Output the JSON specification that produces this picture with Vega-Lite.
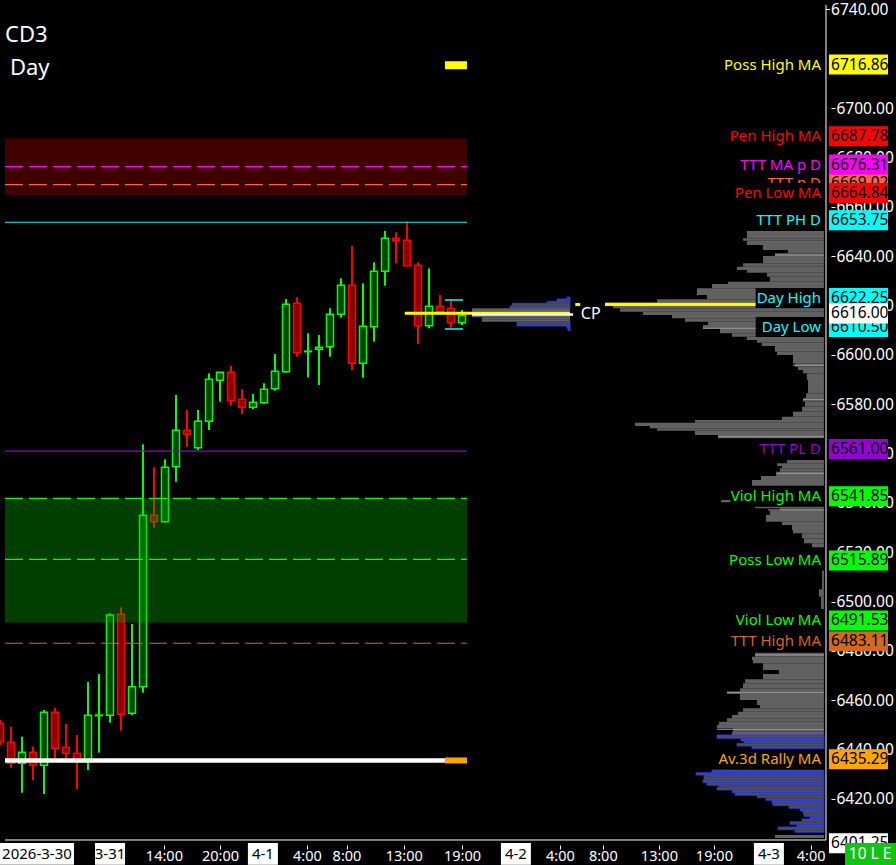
{
"$schema":"https://vega.github.io/schema/vega-lite/v6.json",
"width":896,"height":865,
"autosize":{"type":"fit","contains":"padding"},
"padding":0,
"background":"#000000",
"config":{"padding":0,"view":{"stroke":null},"axis":{"grid":false,"domain":false,"tickColor":"#ffffff","labelColor":"#ffffff","labelFont":"Noto Sans","labelOverlap":false,"labelFlush":false,"tickWidth":1},"text":{"font":"Noto Sans"}},
"datasets":{
"candles":[
{"k":0,"o":6450.66,"h":6452.0,"l":6441.86,"c":6443.2},
{"k":1,"o":6442.96,"h":6449.28,"l":6432.66,"c":6434.45},
{"k":2,"o":6434.45,"h":6445.23,"l":6422.53,"c":6438.91},
{"k":3,"o":6438.91,"h":6441.18,"l":6427.68,"c":6433.76},
{"k":4,"o":6433.64,"h":6456.05,"l":6422.0,"c":6455.12},
{"k":5,"o":6455.12,"h":6456.98,"l":6436.47,"c":6440.53},
{"k":6,"o":6440.93,"h":6450.38,"l":6434.97,"c":6438.5},
{"k":7,"o":6438.5,"h":6445.92,"l":6424.03,"c":6435.1},
{"k":8,"o":6435.1,"h":6467.4,"l":6431.73,"c":6453.9},
{"k":9,"o":6453.75,"h":6470.64,"l":6438.74,"c":6454.0},
{"k":10,"o":6453.9,"h":6495.25,"l":6450.9,"c":6494.56},
{"k":11,"o":6494.84,"h":6497.68,"l":6447.66,"c":6454.31},
{"k":12,"o":6454.71,"h":6490.91,"l":6454.02,"c":6465.5},
{"k":13,"o":6465.5,"h":6563.75,"l":6463.06,"c":6534.97},
{"k":14,"o":6534.97,"h":6554.43,"l":6529.95,"c":6532.38},
{"k":15,"o":6532.38,"h":6557.67,"l":6532.0,"c":6554.43},
{"k":16,"o":6554.67,"h":6583.74,"l":6548.59,"c":6569.43},
{"k":17,"o":6569.43,"h":6577.66,"l":6562.78,"c":6567.81},
{"k":18,"o":6562.37,"h":6577.66,"l":6561.44,"c":6573.08},
{"k":19,"o":6573.08,"h":6592.53,"l":6569.55,"c":6590.1},
{"k":20,"o":6589.7,"h":6592.94,"l":6581.02,"c":6592.94},
{"k":21,"o":6592.94,"h":6595.49,"l":6579.4,"c":6581.43},
{"k":22,"o":6581.99,"h":6586.05,"l":6576.04,"c":6578.75},
{"k":23,"o":6578.75,"h":6584.14,"l":6578.06,"c":6580.78},
{"k":24,"o":6580.62,"h":6588.48,"l":6580.09,"c":6586.05},
{"k":25,"o":6586.29,"h":6600.36,"l":6585.48,"c":6593.34},
{"k":26,"o":6593.18,"h":6622.65,"l":6592.78,"c":6620.5},
{"k":27,"o":6620.91,"h":6623.34,"l":6599.26,"c":6600.88},
{"k":28,"o":6601.29,"h":6608.75,"l":6590.91,"c":6601.5},
{"k":29,"o":6602.26,"h":6608.06,"l":6587.79,"c":6603.07},
{"k":30,"o":6603.32,"h":6618.88,"l":6599.26,"c":6616.45},
{"k":31,"o":6616.45,"h":6631.04,"l":6615.07,"c":6628.2},
{"k":32,"o":6628.2,"h":6644.13,"l":6593.87,"c":6596.59},
{"k":33,"o":6596.59,"h":6629.01,"l":6590.75,"c":6611.58},
{"k":34,"o":6611.42,"h":6637.53,"l":6605.34,"c":6633.88},
{"k":35,"o":6633.88,"h":6650.21,"l":6628.04,"c":6647.26},
{"k":36,"o":6647.26,"h":6649.69,"l":6637.12,"c":6646.28},
{"k":37,"o":6646.44,"h":6653.98,"l":6636.0,"c":6636.15},
{"k":38,"o":6636.31,"h":6637.53,"l":6604.41,"c":6611.83},
{"k":39,"o":6611.83,"h":6635.09,"l":6610.77,"c":6619.69},
{"k":40,"o":6619.69,"h":6624.27,"l":6616.85,"c":6617.5},
{"k":41,"o":6618.88,"h":6622.25,"l":6611.02,"c":6613.04},
{"k":42,"o":6613.04,"h":6618.19,"l":6612.11,"c":6616.0}
],
"zones":[{"a":6664.84,"b":6687.78,"z":"pen"},{"a":6491.53,"b":6541.85,"z":"viol"}],
"dashes":[{"p":6676.31,"name":"TTT MA p D"},{"p":6669.02,"name":"TTT p D"},{"p":6541.85,"name":"Viol High MA"},{"p":6517.1,"name":"Poss Low MA"},{"p":6483.11,"name":"TTT High MA"}],
"levels":[{"p":6653.75,"name":"TTT PH D"},{"p":6561.0,"name":"TTT PL D"}],
"profile":[
{"a":6650.21,"b":6647.26,"l":67.9,"k":"g"},
{"a":6647.26,"b":6646.28,"l":67.55,"k":"g"},
{"a":6646.28,"b":6644.54,"l":67.9,"k":"g"},
{"a":6644.54,"b":6642.51,"l":69.36,"k":"g"},
{"a":6642.51,"b":6641.18,"l":71.64,"k":"g"},
{"a":6641.18,"b":6640.08,"l":70.45,"k":"g"},
{"a":6640.08,"b":6637.12,"l":69.36,"k":"g"},
{"a":6637.12,"b":6635.74,"l":67.55,"k":"g"},
{"a":6635.74,"b":6634.41,"l":67.0,"k":"g"},
{"a":6634.41,"b":6633.31,"l":67.9,"k":"g"},
{"a":6633.31,"b":6631.69,"l":69.73,"k":"g"},
{"a":6631.69,"b":6629.66,"l":70.0,"k":"g"},
{"a":6629.66,"b":6628.73,"l":66.18,"k":"g"},
{"a":6628.73,"b":6626.99,"l":64.73,"k":"g"},
{"a":6626.99,"b":6624.27,"l":63.36,"k":"g"},
{"a":6624.27,"b":6622.53,"l":64.27,"k":"g"},
{"a":6622.53,"b":6621.15,"l":59.73,"k":"g"},
{"a":6621.15,"b":6619.81,"l":55.0,"k":"g"},
{"a":6619.81,"b":6618.88,"l":55.73,"k":"g"},
{"a":6618.88,"b":6617.5,"l":56.36,"k":"g"},
{"a":6617.5,"b":6616.16,"l":58.45,"k":"g"},
{"a":6616.16,"b":6614.83,"l":61.09,"k":"g"},
{"a":6614.83,"b":6613.45,"l":62.27,"k":"g"},
{"a":6613.45,"b":6612.11,"l":64.36,"k":"g"},
{"a":6612.11,"b":6610.77,"l":63.91,"k":"g"},
{"a":6610.77,"b":6608.75,"l":65.45,"k":"g"},
{"a":6608.75,"b":6607.37,"l":66.55,"k":"g"},
{"a":6607.37,"b":6606.03,"l":67.9,"k":"g"},
{"a":6606.03,"b":6604.94,"l":68.82,"k":"g"},
{"a":6604.94,"b":6603.6,"l":69.27,"k":"g"},
{"a":6603.6,"b":6601.29,"l":70.45,"k":"g"},
{"a":6601.29,"b":6599.95,"l":70.64,"k":"g"},
{"a":6599.95,"b":6596.59,"l":72.09,"k":"g"},
{"a":6596.59,"b":6595.21,"l":72.27,"k":"g"},
{"a":6595.21,"b":6593.87,"l":72.55,"k":"g"},
{"a":6593.87,"b":6592.53,"l":73.0,"k":"g"},
{"a":6592.53,"b":6589.82,"l":73.36,"k":"g"},
{"a":6589.82,"b":6584.43,"l":73.45,"k":"g"},
{"a":6584.43,"b":6582.4,"l":73.27,"k":"g"},
{"a":6582.4,"b":6581.02,"l":73.0,"k":"g"},
{"a":6581.02,"b":6578.99,"l":73.18,"k":"g"},
{"a":6578.99,"b":6576.97,"l":72.91,"k":"g"},
{"a":6576.97,"b":6574.94,"l":72.09,"k":"g"},
{"a":6574.94,"b":6573.6,"l":71.09,"k":"g"},
{"a":6573.6,"b":6572.51,"l":63.18,"k":"g"},
{"a":6572.51,"b":6571.17,"l":57.73,"k":"g"},
{"a":6571.17,"b":6570.24,"l":59.09,"k":"g"},
{"a":6570.24,"b":6569.27,"l":59.73,"k":"g"},
{"a":6569.27,"b":6567.52,"l":63.18,"k":"g"},
{"a":6567.52,"b":6566.18,"l":65.27,"k":"g"},
{"a":6557.39,"b":6556.05,"l":71.55,"k":"g"},
{"a":6556.05,"b":6554.96,"l":70.64,"k":"g"},
{"a":6554.96,"b":6554.02,"l":71.09,"k":"g"},
{"a":6554.02,"b":6552.65,"l":70.91,"k":"g"},
{"a":6552.65,"b":6550.9,"l":70.55,"k":"g"},
{"a":6550.9,"b":6549.28,"l":69.18,"k":"g"},
{"a":6549.28,"b":6546.97,"l":68.36,"k":"g"},
{"a":6541.2,"b":6540.3,"l":65.55,"k":"g"},
{"a":6538.46,"b":6537.81,"l":68.64,"k":"g"},
{"a":6537.81,"b":6536.84,"l":70.91,"k":"g"},
{"a":6536.84,"b":6535.09,"l":70.0,"k":"g"},
{"a":6535.09,"b":6532.38,"l":69.64,"k":"g"},
{"a":6532.38,"b":6531.04,"l":71.09,"k":"g"},
{"a":6531.04,"b":6529.01,"l":72.0,"k":"g"},
{"a":6529.01,"b":6527.68,"l":72.09,"k":"g"},
{"a":6527.68,"b":6525.65,"l":72.91,"k":"g"},
{"a":6525.65,"b":6523.62,"l":73.09,"k":"g"},
{"a":6523.62,"b":6522.0,"l":73.82,"k":"g"},
{"a":6512.8,"b":6505.0,"l":74.73,"k":"g"},
{"a":6505.0,"b":6502.0,"l":74.45,"k":"g"},
{"a":6502.0,"b":6497.0,"l":74.64,"k":"g"},
{"a":6479.28,"b":6477.66,"l":68.64,"k":"g"},
{"a":6477.66,"b":6476.32,"l":68.36,"k":"g"},
{"a":6476.32,"b":6474.98,"l":68.45,"k":"g"},
{"a":6474.98,"b":6472.27,"l":69.36,"k":"g"},
{"a":6472.27,"b":6470.64,"l":70.82,"k":"g"},
{"a":6470.64,"b":6468.5,"l":69.36,"k":"g"},
{"a":6468.5,"b":6466.88,"l":67.73,"k":"g"},
{"a":6466.88,"b":6464.85,"l":67.55,"k":"g"},
{"a":6464.85,"b":6463.47,"l":67.27,"k":"g"},
{"a":6463.47,"b":6462.54,"l":66.09,"k":"g"},
{"a":6462.54,"b":6460.1,"l":67.27,"k":"g"},
{"a":6460.1,"b":6458.08,"l":68.82,"k":"g"},
{"a":6458.08,"b":6456.74,"l":69.09,"k":"g"},
{"a":6456.74,"b":6455.36,"l":67.55,"k":"g"},
{"a":6455.36,"b":6454.02,"l":67.09,"k":"g"},
{"a":6454.02,"b":6452.69,"l":66.55,"k":"g"},
{"a":6452.69,"b":6451.31,"l":66.09,"k":"g"},
{"a":6451.31,"b":6449.97,"l":65.36,"k":"g"},
{"a":6449.97,"b":6448.63,"l":65.18,"k":"g"},
{"a":6448.63,"b":6447.26,"l":66.64,"k":"g"},
{"a":6447.26,"b":6445.92,"l":66.55,"k":"g"},
{"a":6445.92,"b":6444.58,"l":65.18,"k":"b"},
{"a":6444.58,"b":6443.49,"l":67.36,"k":"b"},
{"a":6443.49,"b":6442.55,"l":67.64,"k":"b"},
{"a":6442.55,"b":6441.46,"l":67.0,"k":"b"},
{"a":6441.46,"b":6440.36,"l":68.36,"k":"b"},
{"a":6431.73,"b":6430.63,"l":64.73,"k":"b"},
{"a":6430.63,"b":6429.7,"l":63.27,"k":"b"},
{"a":6429.7,"b":6428.77,"l":64.0,"k":"b"},
{"a":6428.77,"b":6427.68,"l":64.0,"k":"b"},
{"a":6427.68,"b":6426.58,"l":63.91,"k":"b"},
{"a":6426.58,"b":6425.53,"l":64.27,"k":"b"},
{"a":6425.53,"b":6424.72,"l":65.36,"k":"b"},
{"a":6424.72,"b":6423.62,"l":65.18,"k":"b"},
{"a":6423.62,"b":6422.53,"l":66.55,"k":"b"},
{"a":6422.53,"b":6421.48,"l":66.82,"k":"b"},
{"a":6421.48,"b":6420.5,"l":68.82,"k":"b"},
{"a":6420.5,"b":6419.45,"l":69.64,"k":"b"},
{"a":6419.45,"b":6418.35,"l":70.18,"k":"b"},
{"a":6418.35,"b":6417.26,"l":70.27,"k":"b"},
{"a":6417.26,"b":6416.21,"l":71.73,"k":"b"},
{"a":6416.21,"b":6415.11,"l":72.73,"k":"b"},
{"a":6415.11,"b":6414.02,"l":73.0,"k":"b"},
{"a":6414.02,"b":6412.96,"l":73.09,"k":"b"},
{"a":6412.96,"b":6411.87,"l":73.64,"k":"b"},
{"a":6411.87,"b":6410.77,"l":72.91,"k":"b"},
{"a":6410.77,"b":6409.72,"l":71.82,"k":"b"},
{"a":6409.72,"b":6408.63,"l":72.45,"k":"b"},
{"a":6408.63,"b":6407.53,"l":70.73,"k":"b"},
{"a":6407.53,"b":6406.48,"l":72.27,"k":"b"},
{"a":6405.38,"b":6404.17,"l":70.45,"k":"g"}
],
"hvn":[
{"p":6640.49,"l":70.45},{"p":6610.77,"l":63.91},{"p":6595.78,"l":72.09},{"p":6582.0,"l":73.0},{"p":6566.84,"l":65.27},{"p":6552.0,"l":70.64},{"p":6537.12,"l":69.82},{"p":6478.35,"l":68.64},{"p":6463.23,"l":66.09},{"p":6448.23,"l":65.18}
],
"mprofile":[
{"a":6623.46,"b":6622.65,"l":51.55,"k":"b"},
{"a":6622.65,"b":6621.72,"l":50.64,"k":"b"},
{"a":6621.72,"b":6620.91,"l":49.73,"k":"b"},
{"a":6620.91,"b":6619.81,"l":46.55,"k":"b"},
{"a":6619.81,"b":6618.88,"l":46.36,"k":"b"},
{"a":6618.88,"b":6617.5,"l":42.91,"k":"g"},
{"a":6617.5,"b":6616.16,"l":42.91,"k":"g"},
{"a":6616.16,"b":6615.23,"l":42.91,"k":"g"},
{"a":6615.23,"b":6614.26,"l":43.82,"k":"g"},
{"a":6614.26,"b":6613.45,"l":43.82,"k":"g"},
{"a":6613.45,"b":6612.52,"l":47.0,"k":"b"},
{"a":6612.52,"b":6611.71,"l":47.0,"k":"b"},
{"a":6611.71,"b":6610.77,"l":51.55,"k":"b"},
{"a":6610.77,"b":6609.8,"l":51.64,"k":"b"}
],
"labels":[
{"name":"TTT p D","v":6669.02,"g":0},
{"name":"Poss High MA","v":6716.86,"g":2},
{"name":"Pen High MA","v":6687.78,"g":2},
{"name":"TTT MA p D","v":6676.31,"g":2},
{"name":"Pen Low MA","v":6664.84,"g":2},
{"name":"TTT PH D","v":6653.75,"g":2},
{"name":"TTT PL D","v":6561.0,"g":2},
{"name":"Viol High MA","v":6541.85,"g":2},
{"name":"Poss Low MA","v":6515.89,"g":2},
{"name":"TTT High MA","v":6483.11,"g":2},
{"name":"Viol Low MA","v":6491.53,"g":2},
{"name":"Av.3d Rally MA","v":6435.29,"g":2},
{"name":"Day High","v":6622.25,"g":1},
{"name":"Day Low","v":6610.5,"g":1},
{"name":"Last","v":6616.0,"g":3},
{"name":"Low","v":6401.25,"g":3}
],
"dates":[{"t":3.36,"label":"2026-3-30"},{"t":10.0,"label":"3-31"},{"t":23.9,"label":"4-1"},{"t":46.9,"label":"4-2"},{"t":69.9,"label":"4-3"}]
},
"layer":[
{"data":{"name":"candles"},"mark":{"type":"rule","strokeWidth":2,"clip":true},
 "encoding":{
  "x":{"field":"k","type":"quantitative","scale":{"domain":[0.4545,81.0],"nice":false,"zero":false},
       "axis":{"orient":"bottom","offset":-20,"title":null,"values":[14.9,20,27.9,31.5,36.7,42,50.9,54.8,59.9,64.9,73.7],
               "labelExpr":"['14:00','20:00','4:00','8:00','13:00','19:00','4:00','8:00','13:00','19:00','4:00'][indexof([14.9,20,27.9,31.5,36.7,42,50.9,54.8,59.9,64.9,73.7], datum.value)]",
               "tickSize":4,"labelFontSize":14.5,"labelPadding":0}},
  "y":{"field":"l","type":"quantitative","scale":{"domain":[6395.25,6741.82],"nice":false,"zero":false},
       "axis":{"orient":"right","offset":-65,"title":null,"values":[6700,6680,6660,6640,6620,6600,6580,6560,6540,6520,6500,6480,6460,6440,6420],
               "format":".2f","tickSize":4,"labelFontSize":15.5,"labelPadding":1}},
  "y2":{"field":"h"},
  "color":{"condition":{"test":"datum.c >= datum.o","value":"#00ff00"},"value":"#ff0000"}
 }},
{"data":{"name":"candles"},"mark":{"type":"bar","size":7,"strokeWidth":1.5,"clip":true},
 "encoding":{
  "x":{"field":"k","type":"quantitative","title":null},
  "y":{"field":"o","type":"quantitative","title":null},
  "y2":{"field":"c"},
  "color":{"condition":{"test":"datum.c >= datum.o","value":"#004400"},"value":"#8b0000"},
  "stroke":{"condition":{"test":"datum.c >= datum.o","value":"#00ff00"},"value":"#ff0000"}
 }},
{"data":{"name":"zones"},"mark":{"type":"rect","fillOpacity":0.33},
 "encoding":{
  "x":{"datum":0.4545},"x2":{"datum":42.45},
  "y":{"field":"a","type":"quantitative","title":null},"y2":{"field":"b"},
  "color":{"condition":{"test":"datum.z == 'pen'","value":"#c00000"},"value":"#00c000"}
 }},
{"data":{"name":"dashes"},"mark":{"type":"rule","strokeWidth":1.2,"strokeDash":[18,6],"clip":true},
 "encoding":{
  "x":{"datum":0.4545},"x2":{"datum":42.45},
  "y":{"field":"p","type":"quantitative","title":null},
  "color":{"field":"name","type":"nominal","legend":null,
   "scale":{"domain":["Poss High MA","Pen High MA","TTT MA p D","TTT p D","Pen Low MA","TTT PH D","Day High","Day Low","Last","TTT PL D","Viol High MA","Poss Low MA","Viol Low MA","TTT High MA","Av.3d Rally MA","Low"],
            "range":["#ffff00","#ff0000","#ff00ff","#ff6347","#ff0000","#00ffff","#00ffff","#00ffff","#ffffff","#9400d3","#00ff00","#00ff00","#00ff00","#d2691e","#ffa500","#ffffff"]}}
 }},
{"data":{"name":"levels"},"mark":{"type":"rule","strokeWidth":1.2,"clip":true},
 "encoding":{
  "x":{"datum":0.4545},"x2":{"datum":42.45},
  "y":{"field":"p","type":"quantitative","title":null},
  "color":{"field":"name","type":"nominal","legend":null}
 }},
{"data":{"values":[{"p":6435.6}]},"mark":{"type":"rule","strokeWidth":4.5,"color":"#ffffff","clip":true},
 "encoding":{"x":{"datum":0.4545},"x2":{"datum":40.45},"y":{"field":"p","type":"quantitative","title":null}}},
{"data":{"values":[{"p":6435.6}]},"mark":{"type":"rule","strokeWidth":6,"color":"#ffa500"},
 "encoding":{"x":{"datum":40.45},"x2":{"datum":42.45},"y":{"field":"p","type":"quantitative","title":null}}},
{"data":{"values":[{"p":6717.4}]},"mark":{"type":"rule","strokeWidth":8,"color":"#ffff00"},
 "encoding":{"x":{"datum":40.45},"x2":{"datum":42.45},"y":{"field":"p","type":"quantitative","title":null}}},
{"data":{"values":[{"p":6622.25},{"p":6610.5}]},"mark":{"type":"rule","strokeWidth":1.5,"color":"#00ffff"},
 "encoding":{"x":{"datum":40.45},"x2":{"datum":42.1},"y":{"field":"p","type":"quantitative","title":null}}},
{"data":{"name":"profile"},"mark":{"type":"rect","stroke":"#2a35e0","strokeWidth":0.9},
 "encoding":{
  "x":{"field":"l","type":"quantitative","title":null},"x2":{"datum":74.9},
  "y":{"field":"a","type":"quantitative","title":null},"y2":{"field":"b"},
  "color":{"condition":{"test":"datum.k == 'b'","value":"#505050"},"value":"#616161"},
  "strokeOpacity":{"condition":{"test":"datum.k == 'b'","value":1},"value":0}
 }},
{"data":{"name":"hvn"},"mark":{"type":"rule","strokeWidth":1,"color":"#a0a0a0"},
 "encoding":{"x":{"field":"l","type":"quantitative","title":null},"x2":{"datum":74.9},"y":{"field":"p","type":"quantitative","title":null}}},
{"data":{"name":"mprofile"},"mark":{"type":"rect","stroke":"#2a35e0","strokeWidth":0.9},
 "encoding":{
  "x":{"field":"l","type":"quantitative","title":null},"x2":{"datum":51.82},
  "y":{"field":"a","type":"quantitative","title":null},"y2":{"field":"b"},
  "color":{"condition":{"test":"datum.k == 'b'","value":"#505050"},"value":"#616161"},
  "strokeOpacity":{"condition":{"test":"datum.k == 'b'","value":1},"value":0}
 }},
{"data":{"values":[{"p":6616.9}]},"mark":{"type":"rule","strokeWidth":3,"color":"#ffff00"},
 "encoding":{"x":{"datum":36.8},"x2":{"datum":51.8},"y":{"field":"p","type":"quantitative","title":null}}},
{"data":{"values":[{"p":6616.4}]},"mark":{"type":"rule","strokeWidth":2.5,"color":"#ffffff"},
 "encoding":{"x":{"datum":42.9},"x2":{"datum":52.1},"y":{"field":"p","type":"quantitative","title":null}}},
{"data":{"values":[{"p":6620.5}]},"mark":{"type":"rule","strokeWidth":3.3,"color":"#ffff00"},
 "encoding":{"x":{"datum":55.0},"x2":{"datum":68.7},"y":{"field":"p","type":"quantitative","title":null}}},
{"data":{"values":[{"p":6620.4}]},"mark":{"type":"rule","strokeWidth":3,"color":"#ffff00"},
 "encoding":{"x":{"datum":52.3},"x2":{"datum":52.75},"y":{"field":"p","type":"quantitative","title":null}}},
{"data":{"values":[{"t":"CP","p":6616.6}]},"mark":{"type":"text","align":"left","baseline":"middle","fontSize":16,"color":"#ffffff"},
 "encoding":{"x":{"datum":52.8},"y":{"field":"p","type":"quantitative","title":null},"text":{"field":"t"}}},

{"data":{"values":[{"p0":6403.36,"p1":6741.82}]},"mark":{"type":"rule","strokeWidth":1,"color":"#ffffff"},
 "encoding":{"x":{"datum":75.09},"y":{"field":"p0","type":"quantitative","title":null},"y2":{"field":"p1"}}},
{"data":{"values":[{"p":6403.36}]},"mark":{"type":"rule","strokeWidth":1,"color":"#ffffff"},
 "encoding":{"x":{"datum":0.4545},"x2":{"datum":75.09},"y":{"field":"p","type":"quantitative","title":null}}},
{"data":{"values":[{"p":6740}]},"mark":{"type":"rule","strokeWidth":1,"color":"#ffffff"},
 "encoding":{"x":{"datum":75.09},"x2":{"datum":75.45},"y":{"field":"p","type":"quantitative","title":null}}},
{"data":{"values":[{"p":6740}]},"mark":{"type":"text","align":"left","baseline":"alphabetic","fontSize":15.5,"yOffset":5.8,"color":"#ffffff","clip":true},
 "encoding":{"x":{"datum":75.55},"y":{"field":"p","type":"quantitative","title":null},"text":{"field":"p","type":"quantitative","format":".2f"}}},

{"data":{"name":"labels"},"transform":[{"filter":"datum.g == 0"}],"mark":{"type":"bar","size":20,"yOffset":-2,"color":"#000000"},
 "encoding":{"x":{"datum":66.4},"x2":{"datum":74.9},"y":{"field":"v","type":"quantitative","title":null}}},
{"data":{"name":"labels"},"transform":[{"filter":"datum.g == 0"}],"mark":{"type":"text","align":"right","baseline":"middle","fontSize":15,"yOffset":-2},
 "encoding":{"x":{"datum":74.64},"y":{"field":"v","type":"quantitative","title":null},"text":{"field":"name"},"color":{"field":"name","type":"nominal","legend":null}}},
{"data":{"name":"labels"},"transform":[{"filter":"datum.g == 0"}],"mark":{"type":"bar","size":20,"yOffset":-2},
 "encoding":{"x":{"datum":75.36},"x2":{"datum":80.73},"y":{"field":"v","type":"quantitative","title":null},"color":{"field":"name","type":"nominal","legend":null}}},
{"data":{"name":"labels"},"transform":[{"filter":"datum.g == 0"}],"mark":{"type":"text","align":"left","baseline":"middle","fontSize":15.5,"yOffset":-2,"color":"#000000"},
 "encoding":{"x":{"datum":75.55},"y":{"field":"v","type":"quantitative","title":null},"text":{"field":"v","type":"quantitative","format":".2f"}}},

{"data":{"name":"labels"},"transform":[{"filter":"datum.g == 2"}],"mark":{"type":"bar","size":20,"yOffset":-2,"color":"#000000"},
 "encoding":{"x":{"datum":66.4},"x2":{"datum":74.9},"y":{"field":"v","type":"quantitative","title":null}}},
{"data":{"name":"labels"},"transform":[{"filter":"datum.g == 1"}],"mark":{"type":"bar","size":20,"yOffset":-2,"color":"#000000"},
 "encoding":{"x":{"datum":68.7},"x2":{"datum":74.9},"y":{"field":"v","type":"quantitative","title":null}}},
{"data":{"name":"labels"},"transform":[{"filter":"datum.g == 1 || datum.g == 2"}],"mark":{"type":"text","align":"right","baseline":"middle","fontSize":15,"yOffset":-2},
 "encoding":{"x":{"datum":74.64},"y":{"field":"v","type":"quantitative","title":null},"text":{"field":"name"},"color":{"field":"name","type":"nominal","legend":null}}},
{"data":{"name":"labels"},"transform":[{"filter":"datum.g == 2"}],"mark":{"type":"bar","size":20,"yOffset":-2},
 "encoding":{"x":{"datum":75.36},"x2":{"datum":80.73},"y":{"field":"v","type":"quantitative","title":null},"color":{"field":"name","type":"nominal","legend":null}}},
{"data":{"name":"labels"},"transform":[{"filter":"datum.g == 2"}],"mark":{"type":"text","align":"left","baseline":"middle","fontSize":15.5,"yOffset":-2,"color":"#000000"},
 "encoding":{"x":{"datum":75.55},"y":{"field":"v","type":"quantitative","title":null},"text":{"field":"v","type":"quantitative","format":".2f"}}},
{"data":{"name":"labels"},"transform":[{"filter":"datum.g == 1"}],"mark":{"type":"bar","size":20,"yOffset":-2},
 "encoding":{"x":{"datum":75.36},"x2":{"datum":80.73},"y":{"field":"v","type":"quantitative","title":null},"color":{"field":"name","type":"nominal","legend":null}}},
{"data":{"name":"labels"},"transform":[{"filter":"datum.g == 1"}],"mark":{"type":"text","align":"left","baseline":"middle","fontSize":15.5,"yOffset":-2,"color":"#000000"},
 "encoding":{"x":{"datum":75.55},"y":{"field":"v","type":"quantitative","title":null},"text":{"field":"v","type":"quantitative","format":".2f"}}},
{"data":{"name":"labels"},"transform":[{"filter":"datum.g == 3"}],"mark":{"type":"bar","size":20,"yOffset":-2},
 "encoding":{"x":{"datum":75.36},"x2":{"datum":80.73},"y":{"field":"v","type":"quantitative","title":null},"color":{"field":"name","type":"nominal","legend":null}}},
{"data":{"name":"labels"},"transform":[{"filter":"datum.g == 3"}],"mark":{"type":"text","align":"left","baseline":"middle","fontSize":15.5,"yOffset":-2,"color":"#000000"},
 "encoding":{"x":{"datum":75.55},"y":{"field":"v","type":"quantitative","title":null},"text":{"field":"v","type":"quantitative","format":".2f"}}},

{"data":{"values":[{"t":"10 L E"}]},"mark":{"type":"rect","color":"#12c412","clip":true},
 "encoding":{"x":{"datum":76.82},"x2":{"datum":81.45},"y":{"datum":6402.14},"y2":{"datum":6393.22}}},
{"data":{"values":[{"t":"10 L E"}]},"mark":{"type":"text","align":"center","baseline":"middle","fontSize":15.5,"color":"#ffffff","clip":true},
 "encoding":{"x":{"datum":79.1},"y":{"datum":6397.7},"text":{"field":"t"}}},

{"data":{"name":"dates"},"transform":[{"filter":"datum.label == '2026-3-30'"}],"mark":{"type":"bar","size":74,"color":"#ffffff","clip":true},
 "encoding":{"x":{"field":"t","type":"quantitative","title":null},"y":{"datum":6402.14},"y2":{"datum":6393.3}}},
{"data":{"name":"dates"},"transform":[{"filter":"datum.label != '2026-3-30'"}],"mark":{"type":"bar","size":30,"color":"#ffffff","clip":true},
 "encoding":{"x":{"field":"t","type":"quantitative","title":null},"y":{"datum":6402.14},"y2":{"datum":6393.3}}},
{"data":{"name":"dates"},"mark":{"type":"text","align":"center","baseline":"middle","fontSize":15,"color":"#000000","clip":true},
 "encoding":{"x":{"field":"t","type":"quantitative","title":null},"y":{"datum":6397.7},"text":{"field":"label"}}},

{"data":{"values":[{"t":"CD3"}]},"mark":{"type":"text","align":"left","baseline":"alphabetic","fontSize":22,"color":"#ffffff"},
 "encoding":{"x":{"datum":0.4545},"y":{"datum":6726.8},"text":{"field":"t"}}},
{"data":{"values":[{"t":"Day"}]},"mark":{"type":"text","align":"left","baseline":"alphabetic","fontSize":22,"color":"#ffffff"},
 "encoding":{"x":{"datum":0.9},"y":{"datum":6713.45},"text":{"field":"t"}}}
]
}
